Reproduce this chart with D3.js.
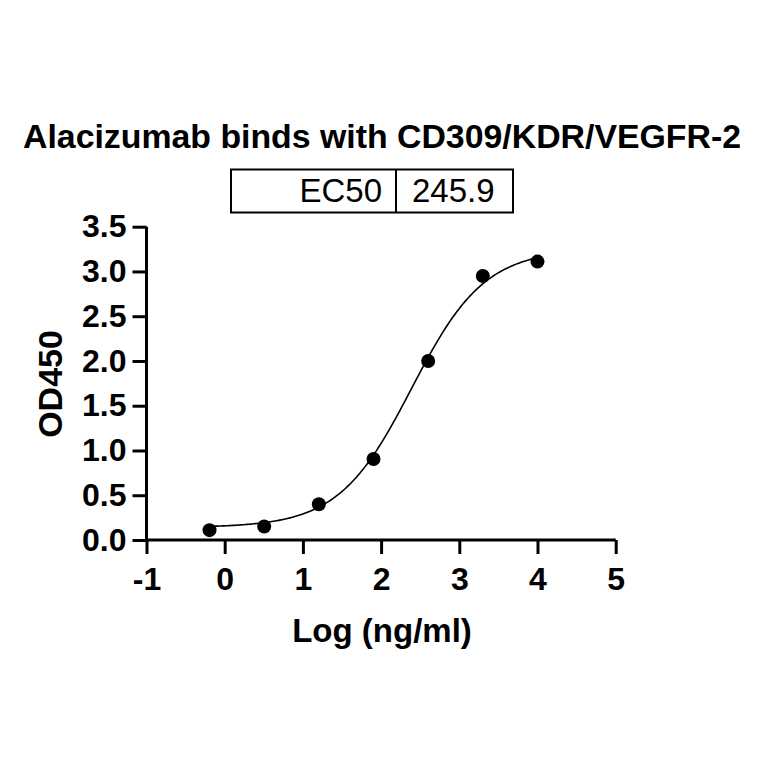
<!DOCTYPE html>
<html>
<head>
<meta charset="utf-8">
<script src="https://cdn.jsdelivr.net/npm/d3@7"></script>
<style>
  html, body { margin: 0; padding: 0; background: #fff; }
  svg text { font-family: "Liberation Sans", Arial, sans-serif; fill: #000; }
</style>
</head>
<body>
<svg id="chart" width="764" height="764"></svg>
<script>
// ---- data ----
const logConc = [-0.194, 0.505, 1.204, 1.903, 2.602, 3.301, 4.0];
const od450 = [0.11, 0.15, 0.40, 0.905, 2.00, 2.95, 3.11];
const xTicks = [-1, 0, 1, 2, 3, 4, 5];
const yTicks = [0.0, 0.5, 1.0, 1.5, 2.0, 2.5, 3.0, 3.5];
const title = "Alacizumab binds with CD309/KDR/VEGFR-2";
const xLabel = "Log (ng/ml)";
const yLabel = "OD450";
const tableLabels = ["EC50", "245.9"];
// 4PL fit parameters (EC50 = 245.9 ng/ml)
const fitBottom = 0.14, fitTop = 3.25, fitLogEC50 = Math.log10(245.9), fitHill = 0.93;

const svg = d3.select("#chart");
const x = d3.scaleLinear().domain([-1, 5]).range([146.5, 615.7]);
const y = d3.scaleLinear().domain([0, 3.5]).range([540, 226.7]);

// axes
const yAxis = svg.append("g").attr("transform", `translate(${x(-1)},0)`)
  .call(d3.axisLeft(y).tickValues(yTicks).tickFormat(d3.format(".1f")).tickSize(14).tickPadding(6).tickSizeOuter(0));
const xAxis = svg.append("g").attr("transform", `translate(0,${y(0)})`)
  .call(d3.axisBottom(x).tickValues(xTicks).tickFormat(d3.format("d")).tickSize(14).tickPadding(13).tickSizeOuter(0));
[yAxis, xAxis].forEach(g => {
  g.select(".domain").attr("stroke", "#000").attr("stroke-width", 3);
  g.selectAll(".tick line").attr("stroke", "#000").attr("stroke-width", 3);
  g.selectAll(".tick text").attr("font-size", 32).attr("font-weight", "bold")
    .attr("font-family", "Liberation Sans, Arial, sans-serif").attr("fill", "#000");
});
xAxis.selectAll(".tick text").text(d => d < 0 ? "-" + Math.abs(d) : d);
yAxis.select(".domain").attr("d", `M0,${y(3.5)}V${y(0) + 1.5}`);
xAxis.select(".domain").attr("d", `M${x(-1) - 1.5},0H${x(5)}`);

// fitted curve
const curvePts = d3.range(0, 201).map(i => {
  const lx = logConc[0] + (logConc[logConc.length - 1] - logConc[0]) * i / 200;
  return [lx, fitBottom + (fitTop - fitBottom) / (1 + Math.pow(10, (fitLogEC50 - lx) * fitHill))];
});
svg.append("path").datum(curvePts)
  .attr("d", d3.line().x(d => x(d[0])).y(d => y(d[1])))
  .attr("fill", "none").attr("stroke", "#000").attr("stroke-width", 1.6);

// points
svg.append("g").selectAll("circle").data(logConc).join("circle")
  .attr("cx", d => x(d)).attr("cy", (d, i) => y(od450[i])).attr("r", 7).attr("fill", "#000");

// title
svg.append("text").attr("x", 382).attr("y", 148).attr("text-anchor", "middle")
  .attr("font-size", 33).attr("font-weight", "bold")
  .attr("textLength", 718).attr("lengthAdjust", "spacingAndGlyphs").text(title);

// EC50 table
const tbl = svg.append("g");
tbl.append("rect").attr("x", 231).attr("y", 169.5).attr("width", 282).attr("height", 43)
  .attr("fill", "none").attr("stroke", "#000").attr("stroke-width", 2);
tbl.append("line").attr("x1", 396).attr("x2", 396).attr("y1", 169.5).attr("y2", 212.5)
  .attr("stroke", "#000").attr("stroke-width", 2);
tbl.append("text").attr("x", 382).attr("y", 202).attr("text-anchor", "end").attr("font-size", 33).text(tableLabels[0]);
tbl.append("text").attr("x", 412).attr("y", 202).attr("text-anchor", "start").attr("font-size", 33).text(tableLabels[1]);

// axis titles
svg.append("text").attr("x", 382).attr("y", 642).attr("text-anchor", "middle")
  .attr("font-size", 33).attr("font-weight", "bold").text(xLabel);
svg.append("text").attr("transform", `translate(62,384) rotate(-90)`).attr("text-anchor", "middle")
  .attr("font-size", 34).attr("font-weight", "bold").text(yLabel);
</script>
</body>
</html>
